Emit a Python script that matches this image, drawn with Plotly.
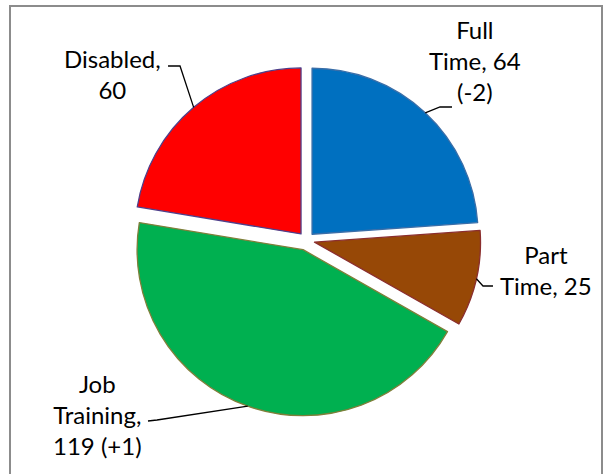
import math
import plotly.graph_objects as go

# ---- data ----
categories = ["Full Time", "Part Time", "Job Training", "Disabled"]
values = [64, 25, 119, 60]
changes = ["(-2)", "", "(+1)", ""]
label_texts = ["Full<br>Time, 64<br>(-2)", "Part<br>Time, 25", "Job<br>Training,<br>119 (+1)", "Disabled,<br>60"]

# ---- style / layout ----
W, H = 609, 474
colors = ["#0070C0", "#974806", "#00B050", "#FF0000"]
edge_colors = ["#3A6EA8", "#8B2E2E", "#7F7F3A", "#4F3F8A"]
pulls = [0.05, 0.05, 0.06, 0.05]

# target geometry in pixels
cx_px, cy_px, r_px = 306.4, 240.3, 166.0
half = r_px * (1 + max(pulls))
dom_x = [(cx_px - half) / W, (cx_px + half) / W]
dom_y = [1 - (cy_px + half) / H, 1 - (cy_px - half) / H]

fig = go.Figure(go.Pie(
    labels=categories, values=values, sort=False, direction="clockwise", rotation=0,
    pull=pulls, textinfo="none", hoverinfo="label+value",
    marker=dict(colors=colors, line=dict(color=edge_colors, width=1.3)),
    domain=dict(x=dom_x, y=dom_y), showlegend=False,
))

# label block centres and leader-line elbows (pixel layout)
label_pos = [(475, 61), (546, 270), (97, 414), (112, 74)]
elbows = [[(440, 107), (452, 107)], [(483, 286), (493, 286)],
          [(157, 420), (148, 421)], [(180, 66), (168, 66)]]

def px2paper(x, y):
    return x / W, 1 - y / H

total = sum(values)
cum = 0
shapes = []
annotations = []
for i, v in enumerate(values):
    mid = (cum + v / 2) / total * 2 * math.pi
    cum += v
    R = r_px * (1 + pulls[i])
    sx = cx_px + R * math.sin(mid)
    sy = cy_px - R * math.cos(mid)
    pts = [(sx, sy)] + elbows[i]
    path = "M " + " L ".join("%.4f,%.4f" % px2paper(x, y) for x, y in pts)
    shapes.append(dict(type="path", xref="paper", yref="paper", path=path,
                       line=dict(color="black", width=1.3)))
    lx, ly = px2paper(*label_pos[i])
    annotations.append(dict(x=lx, y=ly, xref="paper", yref="paper", text=label_texts[i],
                            showarrow=False, xanchor="center", yanchor="middle", align="center",
                            font=dict(family="Lato, Carlito, sans-serif", size=24, color="#000000")))

# chart-area frame (bottom edge runs off the picture)
fx0, fy1 = px2paper(10, 6)
fx1, _ = px2paper(602, 6)
shapes.append(dict(type="rect", xref="paper", yref="paper",
                   x0=fx0, x1=fx1, y0=-0.05, y1=fy1,
                   line=dict(color="#8C8C8C", width=2), fillcolor="rgba(0,0,0,0)", layer="below"))

fig.update_layout(
    width=W, height=H, margin=dict(l=0, r=0, t=0, b=0),
    paper_bgcolor="white", plot_bgcolor="white",
    shapes=shapes, annotations=annotations,
)
fig.write_html("out.html", config={"displayModeBar": False},
               post_script="document.body.style.margin='0';document.body.style.overflow='hidden';")
